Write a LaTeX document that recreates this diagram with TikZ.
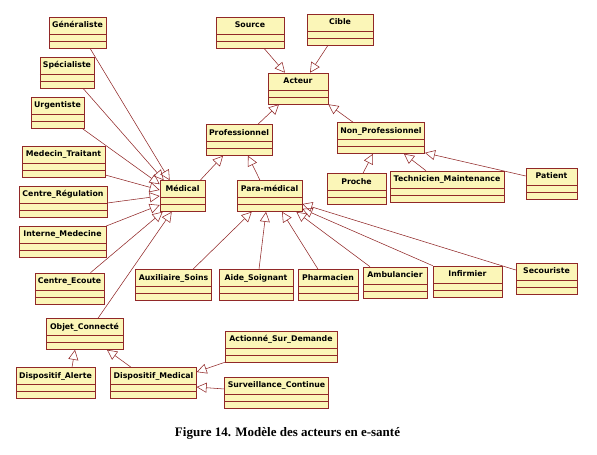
\documentclass[tikz,border=0pt]{standalone}
\usepackage{fontspec}
\setmainfont{Liberation Serif}
\newfontfamily\umlfont{DejaVu Sans}
\usepackage{xcolor}
\usepackage{tikz}
\usetikzlibrary{arrows.meta}
\definecolor{umlfill}{RGB}{251,246,184}
\definecolor{umlline}{RGB}{145,40,40}

\begin{document}
\begin{tikzpicture}[
  x=1pt, y=-1pt,
  cls/.style={rectangle, draw=umlline, fill=umlfill, line width=0.6pt,
              inner xsep=3pt, inner ysep=0pt, text height=10.5pt, text depth=20.5pt,
              font=\umlfont\bfseries\fontsize{7.8}{10}\selectfont,
              path picture={
                \draw[umlline, line width=0.6pt] ([yshift=-17pt]path picture bounding box.north west) -- ([yshift=-17pt]path picture bounding box.north east);
                \draw[umlline, line width=0.6pt] ([yshift=-24pt]path picture bounding box.north west) -- ([yshift=-24pt]path picture bounding box.north east);
              }},
  gen/.style={draw=umlline, line width=0.55pt, -{Triangle[open, length=10pt, width=10pt]}}
]
\useasboundingbox (0,0) rectangle (597,455);
\node[cls, minimum width=57pt] (generaliste) at (77.5,32.5) {Généraliste};
\node[cls, minimum width=54pt] (specialiste) at (67,72.5) {Spécialiste};
\node[cls, minimum width=53pt] (urgentiste) at (57.5,112.5) {Urgentiste};
\node[cls, minimum width=83pt] (medecin) at (63.5,161.5) {Medecin\_Traitant};
\node[cls, minimum width=88pt] (regulation) at (63,201.5) {Centre\_Régulation};
\node[cls, minimum width=87pt] (interne) at (62.5,241.5) {Interne\_Medecine};
\node[cls, minimum width=69pt] (ecoute) at (69.5,288.5) {Centre\_Ecoute};
\node[cls, minimum width=45pt] (medical) at (182.5,196) {Médical};
\node[cls, minimum width=65pt] (para) at (269.5,196) {Para-médical};
\node[cls, minimum width=68pt] (source) at (250,32.5) {Source};
\node[cls, minimum width=66pt] (cible) at (340,29.5) {Cible};
\node[cls, minimum width=60pt] (acteur) at (298,88.5) {Acteur};
\node[cls, minimum width=64pt] (pro) at (239,140) {Professionnel};
\node[cls, minimum width=86pt] (nonpro) at (381,138) {Non\_Professionnel};
\node[cls, minimum width=59pt] (proche) at (356.5,189) {Proche};
\node[cls, minimum width=114pt] (tech) at (447,186.5) {Technicien\_Maintenance};
\node[cls, minimum width=51pt] (patient) at (551.5,183.5) {Patient};
\node[cls, minimum width=75pt] (aux) at (173.5,285) {Auxiliaire\_Soins};
\node[cls, minimum width=74pt] (aide) at (256,285) {Aide\_Soignant};
\node[cls, minimum width=60pt] (pharma) at (328,285) {Pharmacien};
\node[cls, minimum width=64pt] (ambu) at (395,282.5) {Ambulancier};
\node[cls, minimum width=69pt] (infirm) at (467.5,281.5) {Infirmier};
\node[cls, minimum width=61pt] (secour) at (546.5,278.5) {Secouriste};
\node[cls, minimum width=77pt] (objet) at (84.5,334) {Objet\_Connecté};
\node[cls, minimum width=79pt] (alerte) at (55.5,383) {Dispositif\_Alerte};
\node[cls, minimum width=85pt] (dmed) at (153.5,383) {Dispositif\_Medical};
\node[cls, minimum width=112pt] (actionne) at (281,346.5) {Actionné\_Sur\_Demande};
\node[cls, minimum width=103pt] (surv) at (276.5,392.5) {Surveillance\_Continue};
\node[font=\bfseries\fontsize{13}{15}\selectfont] (caption) at (287.5,433) {Figure 14. Modèle des acteurs en e-santé};
\draw[gen] ([xshift=12.5pt]generaliste.south) -- ([xshift=10pt]medical.north west);
\draw[gen] ([xshift=16pt]specialiste.south) -- ([xshift=4pt]medical.north west);
\draw[gen] ([xshift=24.5pt]urgentiste.south) -- ([yshift=-4pt]medical.north west);
\draw[gen] ([yshift=-13.5pt]medecin.east) -- ([yshift=6pt]medical.west);
\draw[gen] ([yshift=-1.5pt]regulation.east) -- (medical.west);
\draw[gen] ([yshift=15.5pt]interne.east) -- ([yshift=-9pt]medical.west);
\draw[gen] ([xshift=21pt]ecoute.north) -- ([xshift=3pt]medical.south west);
\draw[gen] ([xshift=13.5pt]objet.north) -- ([xshift=12pt]medical.south west);
\draw[gen] ([xshift=-5pt]medical.north east) -- ([xshift=-16pt]pro.south);
\draw[gen] ([xshift=-9.5pt]para.north) -- ([xshift=9pt]pro.south);
\draw[gen] ([xshift=19pt]pro.north) -- ([xshift=-19pt]acteur.south);
\draw[gen] ([xshift=-28pt]nonpro.north) -- (acteur.south east);
\draw[gen] ([xshift=14pt]source.south) -- ([xshift=-13pt]acteur.north);
\draw[gen] ([xshift=-12pt]cible.south) -- ([xshift=12pt]acteur.north);
\draw[gen] ([xshift=6.5pt]proche.north) -- ([xshift=-8pt]nonpro.south);
\draw[gen] ([xshift=-21pt]tech.north) -- ([xshift=23pt]nonpro.south);
\draw[gen] ([yshift=7.5pt]patient.west) -- ([yshift=1pt]nonpro.south east);
\draw[gen] ([xshift=19.5pt]aux.north) -- ([xshift=15pt]para.south west);
\draw[gen] ([xshift=3pt]aide.north) -- ([xshift=-3.5pt]para.south);
\draw[gen] ([xshift=-10pt]pharma.north) -- ([xshift=12.5pt]para.south);
\draw[gen] ([xshift=-25pt]ambu.north) -- ([xshift=-6pt]para.south east);
\draw[gen] (infirm.north west) -- ([yshift=3pt]para.south east);
\draw[gen] ([yshift=8.5pt]secour.west) -- ([yshift=-8pt]para.east);
\draw[gen] ([xshift=16.5pt]alerte.north) -- ([xshift=-9.5pt]objet.south);
\draw[gen] ([xshift=-22.5pt]dmed.north) -- ([xshift=22.5pt]objet.south);
\draw[gen] (actionne.south west) -- ([yshift=11pt]dmed.east);
\draw[gen] ([yshift=3.5pt]surv.west) -- ([yshift=-4pt]dmed.east);
\end{tikzpicture}
\end{document}
